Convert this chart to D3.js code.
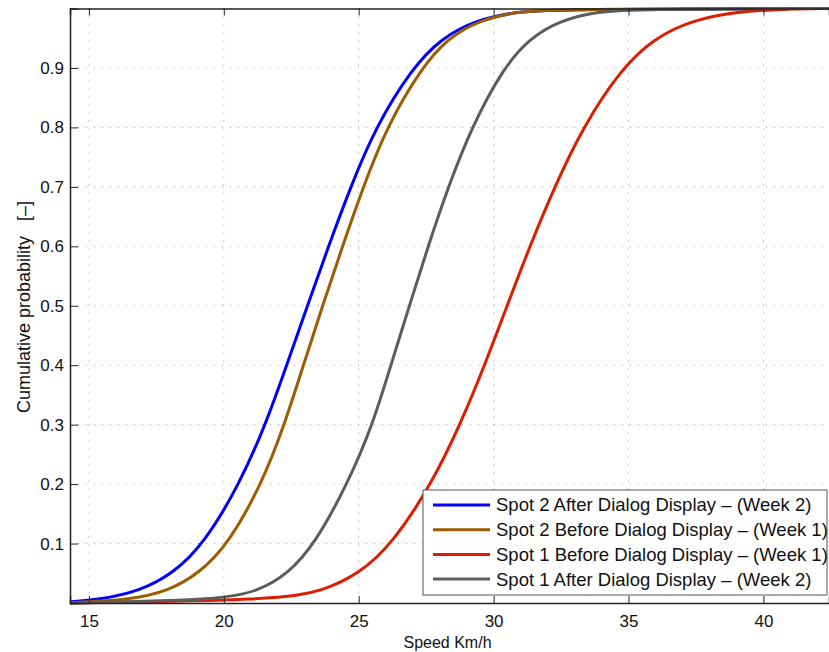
<!DOCTYPE html>
<html>
<head>
<meta charset="utf-8"/>
<title>Cumulative probability of speed</title>
<style>
body { margin: 0; background: #fff; }
text { font-family: "Liberation Sans", Arial, sans-serif; fill: #111; }
.grid line { stroke: #9a9a9a; stroke-dasharray: 1, 7; stroke-width: 1; }
.axis path, .axis line { stroke: #222; }
.curve { fill: none; stroke-width: 3px; stroke-linejoin: round; }
</style>
</head>
<body>
<svg width="829" height="652"></svg>
<script src="https://d3js.org/d3.v7.min.js"></script>
<script>

// Values: speed (km/h) where each curve reaches a probability
var xTicks = [15, 20, 25, 30, 35, 40];
var yTicks = [0.1, 0.2, 0.3, 0.4, 0.5, 0.6, 0.7, 0.8, 0.9];

var probs = [0.005, 0.02, 0.05, 0.1, 0.2, 0.3, 0.4, 0.5, 0.6, 0.7, 0.8, 0.9, 0.95, 0.98, 0.995, 0.999];

var blueX  = [15.32, 16.90, 18.13, 19.27, 20.58, 21.55, 22.33, 23.10, 23.88, 24.70, 25.62, 26.98, 28.07, 29.30, 30.88, 32.43];
var brownX = [16.49, 17.95, 19.09, 20.18, 21.40, 22.25, 22.95, 23.66, 24.40, 25.17, 26.03, 27.32, 28.31, 29.45, 30.91, 32.35];
var redX   = [21.95, 23.68, 25.04, 26.25, 27.70, 28.76, 29.67, 30.50, 31.34, 32.26, 33.30, 34.75, 35.96, 37.32, 39.05, 40.76];
var grayX  = [19.86, 21.28, 22.40, 23.38, 24.58, 25.52, 26.19, 26.88, 27.57, 28.32, 29.18, 30.36, 31.34, 32.46, 33.88, 35.27];

// where each curve sits at the left and right edges of the plot
var edgeX = [14.3, 42.43];
var blueEdge = [0.002, 1.0];
var brownEdge = [0.0004, 1.0];
var redEdge = [0.0, 1.0];
var grayEdge = [0.0, 1.0];

var seriesNames = [
  "Spot 2 After Dialog Display \u2013 (Week 2)",
  "Spot 2 Before Dialog Display \u2013 (Week 1)",
  "Spot 1 Before Dialog Display \u2013 (Week 1)",
  "Spot 1 After Dialog Display \u2013 (Week 2)"
];
var seriesColors = ["#0000ff", "#9c5c00", "#dd1c00", "#5c5c5c"];

var series = [[blueX, blueEdge], [brownX, brownEdge], [redX, redEdge], [grayX, grayEdge]].map(function(s, i) {
  var vals = [{x: edgeX[0], p: s[1][0]}]
    .concat(s[0].map(function(v, j) { return {x: v, p: probs[j]}; }))
    .concat([{x: edgeX[1], p: s[1][1]}]);
  return {name: seriesNames[i], color: seriesColors[i], values: vals};
});

var svg = d3.select("svg"),
    margin = {top: 8.5, right: 0, bottom: 49, left: 70},
    width = svg.attr("width") - margin.left - margin.right,
    height = svg.attr("height") - margin.top - margin.bottom,
    g = svg.append("g").attr("transform", "translate(" + margin.left + "," + margin.top + ")");

var x = d3.scaleLinear().domain([14.3, 42.43]).range([0, width]);
var y = d3.scaleLinear().domain([0, 1]).range([height, 0]);

// dotted grid
g.append("g").attr("class", "grid")
  .selectAll("line").data(xTicks).enter().append("line")
    .attr("x1", function(d) { return x(d); }).attr("x2", function(d) { return x(d); })
    .attr("y1", 0).attr("y2", height);
g.append("g").attr("class", "grid")
  .selectAll("line").data(yTicks).enter().append("line")
    .attr("y1", function(d) { return y(d); }).attr("y2", function(d) { return y(d); })
    .attr("x1", 0).attr("x2", width);

// curves
var line = d3.line()
    .x(function(d) { return x(d.x); })
    .y(function(d) { return y(d.p); })
    .curve(d3.curveBasis);

g.append("g").selectAll("path")
  .data(series).enter().append("path")
    .attr("class", "curve")
    .attr("stroke", function(d) { return d.color; })
    .attr("d", function(d) { return line(d.values); });

// axes, ticks inward like matlab
g.append("g")
    .attr("class", "axis axis--x")
    .attr("transform", "translate(0," + height + ")")
    .call(d3.axisBottom(x).tickValues(xTicks).tickSize(-7).tickPadding(12))
  .call(function(a) { a.selectAll("text").style("font-size", "17px").attr("dy", "0.71em"); });

g.append("g")
    .attr("class", "axis axis--top")
    .call(d3.axisTop(x).tickValues(xTicks).tickSize(-7).tickFormat(""));

g.append("g")
    .attr("class", "axis axis--y")
    .call(d3.axisLeft(y).tickValues(yTicks).tickSize(-8).tickPadding(6).tickFormat(d3.format(".1f")))
  .call(function(a) { a.selectAll("text").style("font-size", "17px"); });

g.selectAll(".axis path").attr("stroke-width", 1.5);

// axis titles
svg.append("text")
    .attr("x", margin.left + width / 2 - 2)
    .attr("y", 648)
    .attr("text-anchor", "middle")
    .style("font-size", "16px")
    .text("Speed Km/h");

svg.append("text")
    .attr("transform", "translate(30,307) rotate(-90)")
    .attr("text-anchor", "middle")
    .style("font-size", "18px")
    .style("white-space", "pre")
    .text("Cumulative probability   [\u2013]");

// legend
var legend = svg.append("g").attr("transform", "translate(423,490)");
legend.append("rect")
    .attr("width", 404).attr("height", 105)
    .attr("fill", "#fff").attr("stroke", "#555").attr("stroke-width", 1);

var item = legend.selectAll(".item").data(series).enter().append("g")
    .attr("transform", function(d, i) { return "translate(0," + (15 + i * 24.7) + ")"; });
item.append("line")
    .attr("x1", 10).attr("x2", 67)
    .attr("stroke", function(d) { return d.color; })
    .attr("stroke-width", 3);
item.append("text")
    .attr("x", 73).attr("dy", "0.35em")
    .style("font-size", "18.5px")
    .text(function(d) { return d.name; });

</script>
</body>
</html>
